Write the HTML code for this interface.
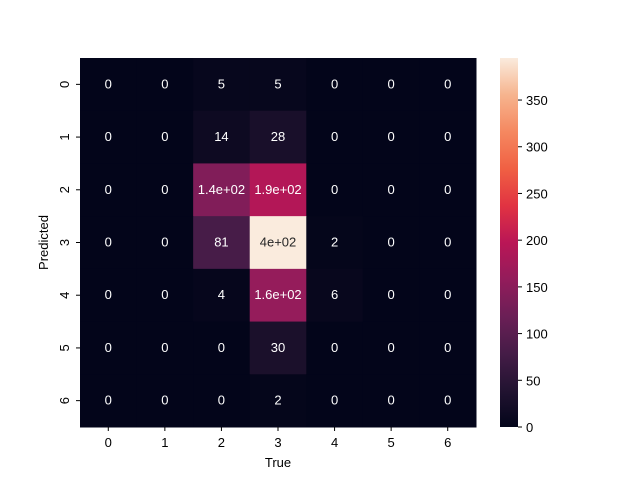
<!DOCTYPE html>
<html><head><meta charset="utf-8"><style>
body{margin:0;background:#fff;}
svg{display:block;font-family:"Liberation Sans","DejaVu Sans",sans-serif;}
</style></head><body>
<svg id="chart" width="640" height="480">
<defs><linearGradient id="cbar" x1="0" y1="1" x2="0" y2="0"></linearGradient></defs>
</svg>
<script>
const rowLabels=["0","1","2","3","4","5","6"];
const colLabels=["0","1","2","3","4","5","6"];
const values=[
[0,0,5,5,0,0,0],
[0,0,14,28,0,0,0],
[0,0,140,190,0,0,0],
[0,0,81,395,2,0,0],
[0,0,4,160,6,0,0],
[0,0,0,30,0,0,0],
[0,0,0,2,0,0,0]];
const cbarTicks=[0,50,100,150,200,250,300,350];
const vmin=0,vmax=395;
const X0=80,X1=476,Y0=58,Y1=427;
const stops=[[0,[3,5,26]],[0.1,[34,19,49]],[0.2,[69,28,71]],[0.3,[107,31,86]],[0.4,[147,28,91]],[0.5,[186,22,86]],[0.6,[225,51,66]],[0.7,[240,96,67]],[0.8,[245,136,96]],[0.9,[246,180,142]],[1,[250,235,221]]];
function cmap(t){t=Math.max(0,Math.min(1,t));for(let i=1;i<stops.length;i++){if(t<=stops[i][0]){const a=stops[i-1],b=stops[i],f=(t-a[0])/(b[0]-a[0]);const c=a[1].map((v,k)=>Math.round(v+(b[1][k]-v)*f));return{c:`rgb(${c})`,rgb:c};}}return{c:`rgb(${stops[10][1]})`,rgb:stops[10][1]};}
const svg=document.getElementById('chart');const NS="http://www.w3.org/2000/svg";
function el(t,a,p){const e=document.createElementNS(NS,t);for(const k in a)e.setAttribute(k,a[k]);(p||svg).appendChild(e);return e;}
const cw=(X1-X0)/colLabels.length,ch=(Y1-Y0)/rowLabels.length;
const xs=i=>X0+i*cw, ys=j=>Y0+j*ch;
function fmt(v){if(v<100)return String(v);const e=Math.floor(Math.log10(v));let m=(v/Math.pow(10,e));let s=m.toPrecision(2);if(s==="10"){s="1";}s=s.replace(/\.0$/,"");return s+"e+0"+e;}
values.forEach((row,j)=>row.forEach((v,i)=>{
 const col=cmap((v-vmin)/(vmax-vmin));
 const r=el('rect',{x:xs(i),y:ys(j),width:cw+0.5,height:ch+0.5,fill:col.c});
 
 
 const lum=0.2126*col.rgb[0]/255+0.7152*col.rgb[1]/255+0.0722*col.rgb[2]/255;
 const t=el('text',{x:xs(i)+cw/2,y:ys(j)+ch/2+4,'text-anchor':'middle','font-size':13,fill:lum>0.408?'#262626':'#fff'});
 t.textContent=fmt(v);
 
 
}));
colLabels.forEach((l,i)=>{const x=xs(i)+cw/2;el('line',{x1:x,x2:x,y1:Y1,y2:Y1+4,stroke:'#000'});const t=el('text',{x:x,y:Y1+20,'text-anchor':'middle','font-size':13});t.textContent=l;
 
 });
rowLabels.forEach((l,j)=>{const y=ys(j)+ch/2;el('line',{x1:X0-4,x2:X0,y1:y,y2:y,stroke:'#000'});const t=el('text',{x:0,y:0,'text-anchor':'middle','font-size':13,transform:`translate(${X0-11},${y}) rotate(-90)`});t.textContent=l;
 
 });
let t=el('text',{x:(X0+X1)/2,y:467,'text-anchor':'middle','font-size':13});t.textContent='True';


t=el('text',{x:0,y:0,'text-anchor':'middle','font-size':13,transform:`translate(48,${(Y0+Y1)/2}) rotate(-90)`});t.textContent='Predicted';


const g=document.getElementById('cbar');stops.forEach(s=>el('stop',{offset:s[0],'stop-color':`rgb(${s[1]})`},g));
const CX=500,CW=18;
const cb=el('rect',{x:CX,y:Y0,width:CW,height:Y1-Y0,fill:'url(#cbar)'});


const cy=v=>Y1-(v-vmin)/(vmax-vmin)*(Y1-Y0);
cbarTicks.forEach(v=>{const y=cy(v);el('line',{x1:CX+CW,x2:CX+CW+4,y1:y,y2:y,stroke:'#000'});const tt=el('text',{x:CX+CW+8,y:y+5,'font-size':13});tt.textContent=v;
 
 });
</script>
</body></html>
